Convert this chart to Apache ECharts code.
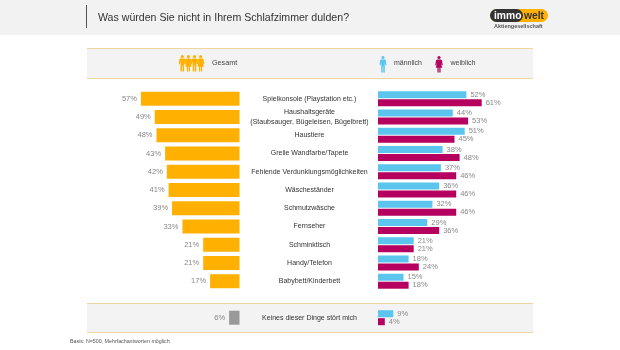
<!DOCTYPE html>
<html><head><meta charset="utf-8">
<style>html,body{margin:0;padding:0;background:#fff}#c{width:620px;height:350px}</style>
<script src="https://cdn.jsdelivr.net/npm/echarts@6/dist/echarts.min.js"></script>
</head><body><div id="c"></div>
<script>
const categories = ['Spielkonsole (Playstation etc.)','Haushaltsgeräte\n(Staubsauger, Bügeleisen, Bügelbrett)','Haustiere','Grelle Wandfarbe/Tapete','Fehlende Verdunklungsmöglichkeiten','Wäscheständer','Schmutzwäsche','Fernseher','Schminktisch','Handy/Telefon','Babybett/Kinderbett','','Keines dieser Dinge stört mich'];
const gesamt = [57,49,48,43,42,41,39,33,21,21,17,null,6];
const maennlich = [52,44,51,38,37,36,32,29,21,18,15,null,9];
const weiblich = [61,53,45,48,46,46,46,36,21,24,18,null,4];
const FONT = '"Liberation Sans", Arial, sans-serif';
const ORANGE='#ffb000', BLUE='#5bc5ee', MAG='#b5005f', GREY='#999999', TAN='#ecd6a0';

function man(x,y,c){return {type:'group',x:x,y:y,scaleX:0.78,scaleY:0.78,silent:true,children:[
  {type:'circle',shape:{cx:0,cy:2,r:2},style:{fill:c}},
  {type:'polygon',shape:{points:[[-2.8,4.6],[2.8,4.6],[3.8,5.6],[4.4,12],[3.1,12],[2.3,8],[2.3,21],[0.4,21],[0.4,13.5],[-0.4,13.5],[-0.4,21],[-2.3,21],[-2.3,8],[-3.1,12],[-4.4,12],[-3.8,5.6]]},style:{fill:c}}]};}
function woman(x,y,c){return {type:'group',x:x,y:y,scaleX:0.78,scaleY:0.78,silent:true,children:[
  {type:'circle',shape:{cx:0,cy:2,r:2},style:{fill:c}},
  {type:'polygon',shape:{points:[[-2.4,4.6],[2.4,4.6],[3.7,5.6],[5,12],[3.8,12],[2.4,8],[4,15],[2,15],[2,21],[0.4,21],[0.4,15],[-0.4,15],[-0.4,21],[-2,21],[-2,15],[-4,15],[-2.4,8],[-3.8,12],[-5,12],[-3.7,5.6]]},style:{fill:c}}]};}
function band(y,h){return [
  {type:'rect',silent:true,z:-1,shape:{x:87,y:y,width:446,height:h},style:{fill:'#f3f3f3'}},
  {type:'rect',silent:true,z:1,shape:{x:87,y:y,width:446,height:1},style:{fill:TAN}},
  {type:'rect',silent:true,z:1,shape:{x:87,y:y+h,width:446,height:1},style:{fill:TAN}}];}
function txt(x,y,t,size,fill,weight){return {type:'text',x:x,y:y,silent:true,style:{text:t,fontFamily:FONT,fontSize:size,fontWeight:weight||'normal',fill:fill,verticalAlign:'middle',align:'left'}};}

const graphics = [
  {type:'rect',silent:true,z:-2,shape:{x:0,y:0,width:620,height:35},style:{fill:'#f2f2f2'}},
  {type:'line',silent:true,shape:{x1:86.5,y1:5,x2:86.5,y2:28},style:{stroke:'#555',lineWidth:1}},
  ...band(48,30),
  ...band(303,29),
  man(182.3,55,ORANGE),woman(188.4,55,ORANGE),man(194.5,55,ORANGE),woman(200.6,55,ORANGE),
  txt(212,63.5,'Gesamt',7.2,'#444'),
  man(383,56,BLUE),txt(394,63.5,'männlich',7,'#444'),
  woman(439,56,MAG),txt(450.5,63.5,'weiblich',7,'#444'),
  {type:'rect',silent:true,shape:{x:490,y:9,width:58,height:13,r:6.5},style:{fill:'#ffb000'}},
  {type:'rect',silent:true,shape:{x:490,y:9,width:33,height:13,r:6.5},style:{fill:'#333333'}},
  txt(494,15.7,'immo',10.3,'#ffffff','bold'),
  txt(524,15.7,'welt',10.3,'#333333','bold'),
  txt(494,26.5,'Aktiengesellschaft',5.5,'#555','bold'),
  txt(70,342,'Basis: N=500, Mehrfachantworten möglich',5.3,'#555')
];

const top0=89.6, h0=237.25;
const labelStyle={show:true,formatter:p=>p.value==null?'':p.value+'%',color:'#888',fontSize:7.5,fontFamily:FONT,distance:4};
const chart=echarts.init(document.getElementById('c'),null,{renderer:'canvas'});
chart.setOption({
  animation:false,
  backgroundColor:'#ffffff',
  title:{text:'Was würden Sie nicht in Ihrem Schlafzimmer dulden?',left:93,top:8,textStyle:{fontFamily:FONT,fontSize:10.6,fontWeight:'normal',color:'#333'}},
  graphic:graphics,
  grid:[
    {left:70,width:169.5,top:top0,height:h0},
    {left:378,width:170,top:top0,height:h0}
  ],
  xAxis:[
    {gridIndex:0,type:'value',inverse:true,min:0,max:98,show:false},
    {gridIndex:1,type:'value',min:0,max:100,show:false}
  ],
  yAxis:[
    {gridIndex:0,type:'category',inverse:true,data:categories,show:false},
    {gridIndex:1,type:'category',inverse:true,data:categories,
      axisLine:{show:false},axisTick:{show:false},
      axisLabel:{interval:0,align:'center',margin:68.5,fontFamily:FONT,fontSize:7,color:'#333',lineHeight:9.5}}
  ],
  series:[
    {type:'bar',name:'Gesamt',xAxisIndex:0,yAxisIndex:0,barWidth:14,
      data:gesamt.map((v,i)=>categories[i].startsWith('Keines')?{value:v,itemStyle:{color:GREY}}:v),
      itemStyle:{color:ORANGE},label:Object.assign({position:'left'},labelStyle)},
    {type:'bar',name:'männlich',xAxisIndex:1,yAxisIndex:1,barWidth:7,barGap:'14%',data:maennlich,
      itemStyle:{color:BLUE},label:Object.assign({position:'right'},labelStyle)},
    {type:'bar',name:'weiblich',xAxisIndex:1,yAxisIndex:1,barWidth:7,barGap:'14%',data:weiblich,
      itemStyle:{color:MAG},label:Object.assign({position:'right'},labelStyle)}
  ]
});
</script></body></html>
